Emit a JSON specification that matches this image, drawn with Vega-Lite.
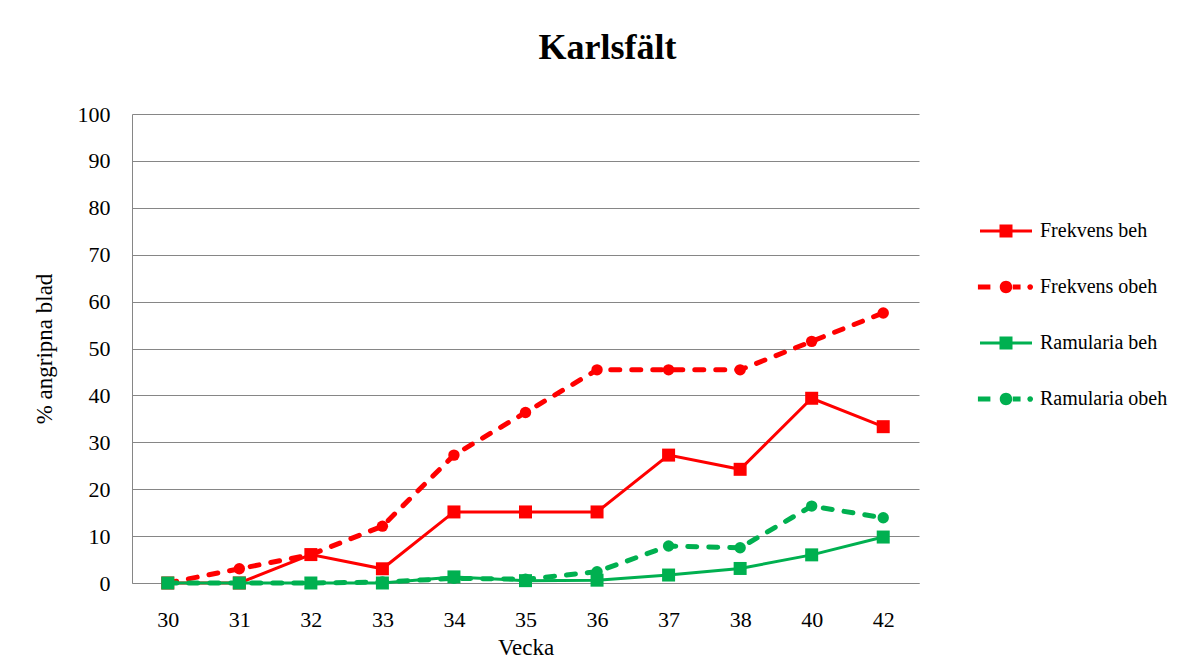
{
  "$schema": "https://vega.github.io/schema/vega-lite/v6.json",
  "width": 787,
  "height": 469,
  "autosize": {"type": "none"},
  "padding": {"left": 132, "top": 114, "right": 276, "bottom": 77},
  "background": "white",
  "title": {
    "text": "Karlsfält",
    "font": "Liberation Serif",
    "fontSize": 36,
    "fontWeight": "bold",
    "color": "black",
    "anchor": "middle",
    "frame": "group",
    "dx": 82,
    "baseline": "alphabetic",
    "offset": 8
  },
  "data": {
    "values": [
      {"vecka": "30", "serie": "Frekvens beh", "v": 0},
      {"vecka": "31", "serie": "Frekvens beh", "v": 0},
      {"vecka": "32", "serie": "Frekvens beh", "v": 6.06},
      {"vecka": "33", "serie": "Frekvens beh", "v": 3.03},
      {"vecka": "34", "serie": "Frekvens beh", "v": 15.15},
      {"vecka": "35", "serie": "Frekvens beh", "v": 15.15},
      {"vecka": "36", "serie": "Frekvens beh", "v": 15.15},
      {"vecka": "37", "serie": "Frekvens beh", "v": 27.27},
      {"vecka": "38", "serie": "Frekvens beh", "v": 24.24},
      {"vecka": "40", "serie": "Frekvens beh", "v": 39.39},
      {"vecka": "42", "serie": "Frekvens beh", "v": 33.33},
      {"vecka": "30", "serie": "Frekvens obeh", "v": 0},
      {"vecka": "31", "serie": "Frekvens obeh", "v": 3.03},
      {"vecka": "32", "serie": "Frekvens obeh", "v": 6.06},
      {"vecka": "33", "serie": "Frekvens obeh", "v": 12.12},
      {"vecka": "34", "serie": "Frekvens obeh", "v": 27.27},
      {"vecka": "35", "serie": "Frekvens obeh", "v": 36.36},
      {"vecka": "36", "serie": "Frekvens obeh", "v": 45.45},
      {"vecka": "37", "serie": "Frekvens obeh", "v": 45.45},
      {"vecka": "38", "serie": "Frekvens obeh", "v": 45.45},
      {"vecka": "40", "serie": "Frekvens obeh", "v": 51.52},
      {"vecka": "42", "serie": "Frekvens obeh", "v": 57.58},
      {"vecka": "30", "serie": "Ramularia beh", "v": 0},
      {"vecka": "31", "serie": "Ramularia beh", "v": 0},
      {"vecka": "32", "serie": "Ramularia beh", "v": 0},
      {"vecka": "33", "serie": "Ramularia beh", "v": 0},
      {"vecka": "34", "serie": "Ramularia beh", "v": 1.3},
      {"vecka": "35", "serie": "Ramularia beh", "v": 0.5},
      {"vecka": "36", "serie": "Ramularia beh", "v": 0.6},
      {"vecka": "37", "serie": "Ramularia beh", "v": 1.7},
      {"vecka": "38", "serie": "Ramularia beh", "v": 3.1},
      {"vecka": "40", "serie": "Ramularia beh", "v": 6.0},
      {"vecka": "42", "serie": "Ramularia beh", "v": 9.8},
      {"vecka": "30", "serie": "Ramularia obeh", "v": 0},
      {"vecka": "31", "serie": "Ramularia obeh", "v": 0},
      {"vecka": "32", "serie": "Ramularia obeh", "v": 0},
      {"vecka": "33", "serie": "Ramularia obeh", "v": 0.2},
      {"vecka": "34", "serie": "Ramularia obeh", "v": 1.0},
      {"vecka": "35", "serie": "Ramularia obeh", "v": 0.8},
      {"vecka": "36", "serie": "Ramularia obeh", "v": 2.4},
      {"vecka": "37", "serie": "Ramularia obeh", "v": 7.9},
      {"vecka": "38", "serie": "Ramularia obeh", "v": 7.5},
      {"vecka": "40", "serie": "Ramularia obeh", "v": 16.4},
      {"vecka": "42", "serie": "Ramularia obeh", "v": 13.9}
    ]
  },
  "encoding": {
    "x": {
      "field": "vecka",
      "type": "ordinal",
      "sort": ["30", "31", "32", "33", "34", "35", "36", "37", "38", "40", "42"],
      "scale": {"type": "point", "padding": 0.5},
      "axis": {
        "title": "Vecka",
        "labelAngle": 0,
        "ticks": false,
        "tickSize": 0,
        "grid": false,
        "domain": true,
        "domainColor": "#868686",
        "domainWidth": 1,
        "labelFont": "Liberation Serif",
        "labelFontSize": 22,
        "labelColor": "black",
        "labelPadding": 26,
        "titleFont": "Liberation Serif",
        "titleFontSize": 23,
        "titleFontWeight": "normal",
        "titleColor": "black",
        "titlePadding": 6
      }
    },
    "y": {
      "field": "v",
      "type": "quantitative",
      "scale": {"domain": [0, 100], "nice": false},
      "axis": {
        "title": "% angripna blad",
        "values": [0, 10, 20, 30, 40, 50, 60, 70, 80, 90, 100],
        "ticks": false,
        "tickSize": 0,
        "grid": true,
        "gridColor": "#868686",
        "gridOpacity": 1,
        "gridWidth": 1,
        "domain": true,
        "domainColor": "#868686",
        "domainWidth": 1,
        "labelFont": "Liberation Serif",
        "labelFontSize": 22,
        "labelColor": "black",
        "labelPadding": 22,
        "titleFont": "Liberation Serif",
        "titleFontSize": 23,
        "titleFontWeight": "normal",
        "titleColor": "black",
        "titlePadding": 21
      }
    },
    "color": {
      "field": "serie",
      "type": "nominal",
      "scale": {
        "domain": ["Frekvens beh", "Frekvens obeh", "Ramularia beh", "Ramularia obeh"],
        "range": ["#ff0000", "#ff0000", "#00b050", "#00b050"]
      },
      "legend": {
        "title": null,
        "orient": "none",
        "legendX": 848,
        "legendY": 91,
        "padding": 0,
        "symbolSize": 2704,
        "symbolOpacity": 1,
        "labelOffset": 8,
        "labelFont": "Liberation Serif",
        "labelFontSize": 20,
        "labelColor": "black",
        "labelLimit": 300,
        "rowPadding": 20,
        "encode": {
          "symbols": {
            "update": {
              "shape": {"signal": "indexof(datum.value, 'obeh') >= 0 ? 'M-1.08,-0.1H-0.6V0.1H-1.08Z M-0.24,0A0.24,0.24,0,1,0,0.24,0A0.24,0.24,0,1,0,-0.24,0Z M0.26,-0.1H0.56V0.1H0.26Z M0.82,0A0.11,0.11,0,1,0,1.04,0A0.11,0.11,0,1,0,0.82,0Z' : 'M-1,-0.06H1V0.06H-1Z M-0.25,-0.25H0.25V0.25H-0.25Z'"},
              "fill": {"signal": "scale('color', datum.value)"},
              "stroke": {"value": "transparent"},
              "strokeWidth": {"value": 0},
              "opacity": {"value": 1}
            }
          }
        }
      }
    }
  },
  "layer": [
    {
      "transform": [{"filter": {"field": "serie", "equal": "Frekvens beh"}}],
      "mark": {"type": "line", "strokeWidth": 3}
    },
    {
      "transform": [{"filter": {"field": "serie", "equal": "Frekvens beh"}}],
      "mark": {"type": "point", "shape": "square", "filled": true, "size": 169, "opacity": 1}
    },
    {
      "transform": [{"filter": {"field": "serie", "equal": "Frekvens obeh"}}],
      "mark": {"type": "line", "strokeWidth": 5, "strokeDash": [9, 12], "strokeCap": "round"}
    },
    {
      "transform": [{"filter": {"field": "serie", "equal": "Frekvens obeh"}}],
      "mark": {"type": "point", "shape": "circle", "filled": true, "size": 130, "opacity": 1}
    },
    {
      "transform": [{"filter": {"field": "serie", "equal": "Ramularia beh"}}],
      "mark": {"type": "line", "strokeWidth": 3}
    },
    {
      "transform": [{"filter": {"field": "serie", "equal": "Ramularia beh"}}],
      "mark": {"type": "point", "shape": "square", "filled": true, "size": 169, "opacity": 1}
    },
    {
      "transform": [{"filter": {"field": "serie", "equal": "Ramularia obeh"}}],
      "mark": {"type": "line", "strokeWidth": 5, "strokeDash": [9, 12], "strokeCap": "round"}
    },
    {
      "transform": [{"filter": {"field": "serie", "equal": "Ramularia obeh"}}],
      "mark": {"type": "point", "shape": "circle", "filled": true, "size": 130, "opacity": 1}
    }
  ],
  "config": {
    "view": {"stroke": null}
  }
}
